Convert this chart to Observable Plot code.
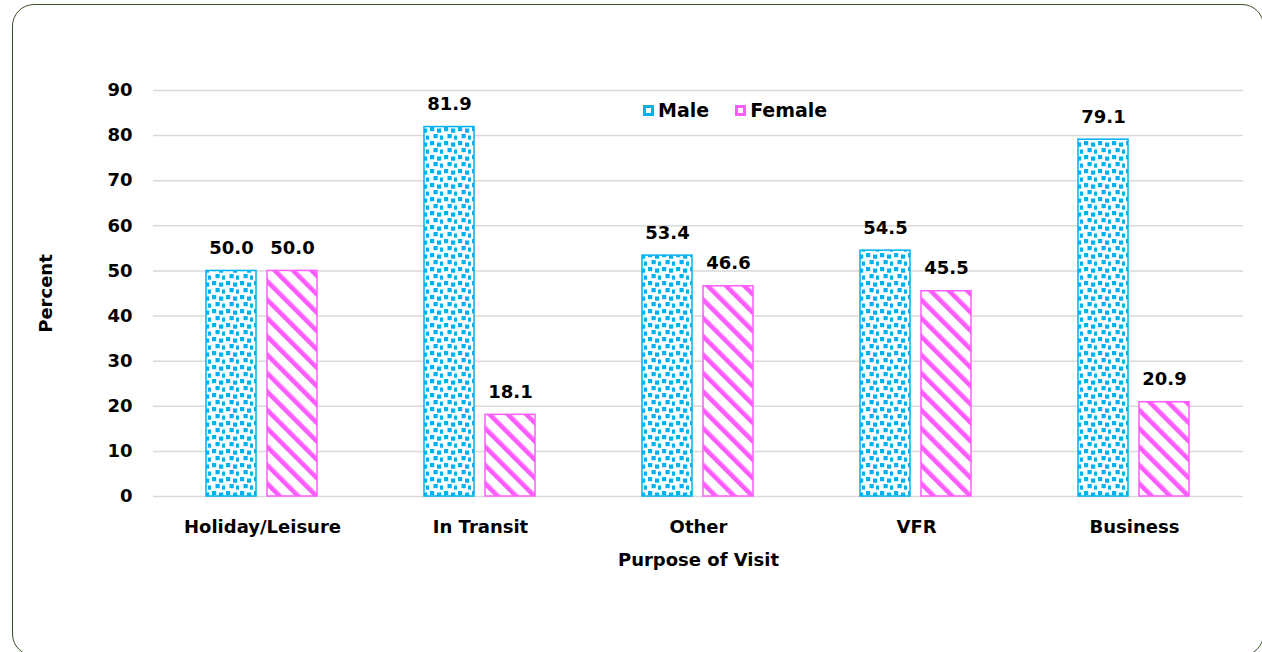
<!DOCTYPE html>
<html>
<head>
<meta charset="utf-8">
<script src="https://cdn.jsdelivr.net/npm/d3@7"></script>
<script src="https://cdn.jsdelivr.net/npm/@observablehq/plot@0.6"></script>
<style>
  html, body { margin: 0; padding: 0; background: #fff; width: 1262px; height: 652px; overflow: hidden; }
  #wrap { position: relative; width: 1262px; height: 652px; }
  #card { position: absolute; left: 12px; top: 4px; width: 1252px; height: 652px; box-sizing: border-box;
          border: 1.5px solid #3b5323; border-radius: 22px; }
  #chart { position: absolute; left: 0; top: 0; }
  #legend { position: absolute; left: 643px; top: 99px; display: flex; align-items: center;
            font-family: "DejaVu Sans", sans-serif; font-weight: bold; font-size: 19px; color: #000; }
  #legend .item { display: flex; align-items: center; margin-right: 26px; }
  #legend svg { margin-right: 4px; }
</style>
</head>
<body>
<div id="wrap">
  <div id="card"></div>
  <div id="chart"></div>
  <div id="legend"></div>
</div>
<script>
const categories = ["Holiday/Leisure", "In Transit", "Other", "VFR", "Business"];
const series = ["Male", "Female"];
const maleValues = [50.0, 81.9, 53.4, 54.5, 79.1];
const femaleValues = [50.0, 18.1, 46.6, 45.5, 20.9];
const yTicks = [0, 10, 20, 30, 40, 50, 60, 70, 80, 90];

const colors = {Male: "#00B0F0", Female: "#FF5CFF"};
const fills = {Male: "url(#pMale)", Female: "url(#pFemale)"};

const data = categories.flatMap((c, i) => [
  {category: c, sex: "Male", value: maleValues[i]},
  {category: c, sex: "Female", value: femaleValues[i]}
]);

const barMarks = series.map(s => Plot.barY(data.filter(d => d.sex === s), {
  fx: "category", x: "sex", y: "value",
  fill: fills[s], stroke: colors[s], strokeWidth: 1.5
}));

const chart = Plot.plot({
  width: 1262, height: 652,
  marginLeft: 152, marginRight: 19, marginTop: 90, marginBottom: 156,
  style: {fontFamily: "DejaVu Sans, sans-serif", fontWeight: "bold", fontSize: "18px", color: "#000", background: "transparent", overflow: "visible"},
  fx: {domain: categories, padding: 0, axis: "bottom", tickSize: 0, tickPadding: 24,
       label: "Purpose of Visit", labelAnchor: "center", labelOffset: 69, labelArrow: false},
  x: {domain: series, paddingInner: 0.177, paddingOuter: 0.848, axis: null},
  y: {domain: [0, 90], ticks: yTicks, axis: "left", tickSize: 0, tickPadding: 21,
      label: "Percent", labelAnchor: "center", labelOffset: 114, labelArrow: false},
  marks: [
    Plot.gridY(yTicks, {stroke: "#d9d9d9", strokeOpacity: 1, strokeWidth: 1.5}),
    ...barMarks,
    Plot.text(data, {fx: "category", x: "sex", y: "value", text: d => d.value.toFixed(1),
      lineAnchor: "bottom", dy: -17, fill: "#000", fontSize: 18, fontWeight: "bold"})
  ]
});

const svg = d3.select(chart);
const defs = svg.insert("defs", ":first-child");
function addPatterns(defs) {
  const pm = defs.append("pattern").attr("id", "pMale").attr("patternUnits", "userSpaceOnUse")
    .attr("width", 14).attr("height", 14);
  pm.append("rect").attr("width", 14).attr("height", 14).attr("fill", "#fff");
  [[1, 1], [8, 2.5], [4.5, 8], [11, 9.5]].forEach(([x, y]) =>
    pm.append("rect").attr("x", x).attr("y", y).attr("width", 4.2).attr("height", 4.2).attr("fill", colors.Male));
  const pf = defs.append("pattern").attr("id", "pFemale").attr("patternUnits", "userSpaceOnUse")
    .attr("width", 13).attr("height", 13).attr("patternTransform", "rotate(-45)");
  pf.append("rect").attr("width", 13).attr("height", 13).attr("fill", "#fff");
  pf.append("rect").attr("width", 4.6).attr("height", 13).attr("fill", colors.Female);
}
addPatterns(defs);
document.getElementById("chart").appendChild(chart);

// Legend
const legend = d3.select("#legend");
series.forEach(s => {
  const item = legend.append("div").attr("class", "item");
  const sw = item.append("svg").attr("width", 11).attr("height", 11);
  sw.append("rect").attr("x", 0.75).attr("y", 0.75).attr("width", 9.5).attr("height", 9.5)
    .attr("fill", colors[s]).attr("stroke", colors[s]).attr("stroke-width", 1.5);
  sw.append("rect").attr("x", 3).attr("y", 3).attr("width", 5).attr("height", 5).attr("fill", "#fff");
  item.append("span").text(s);
});
</script>
</body>
</html>
